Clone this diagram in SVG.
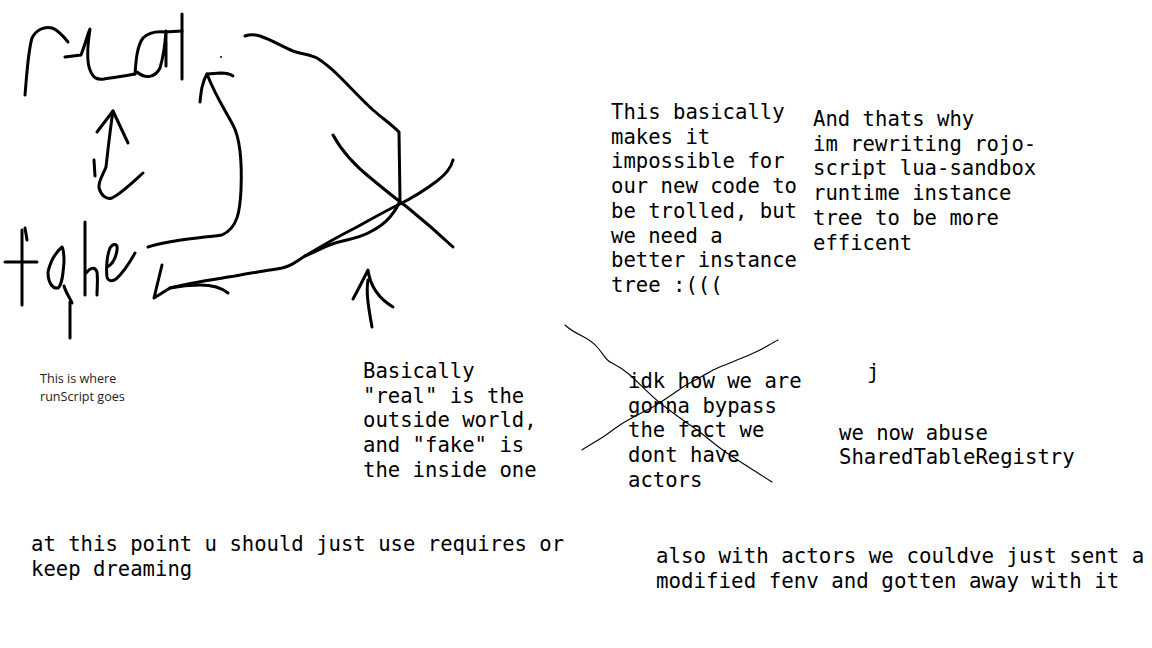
<svg xmlns="http://www.w3.org/2000/svg" width="1152" height="648" viewBox="0 0 1152 648">
<style>
.ink{fill:none;stroke:#000;stroke-width:3;stroke-linecap:round;stroke-linejoin:round}
.thin{fill:none;stroke:#000;stroke-width:1.1;stroke-linecap:round;stroke-linejoin:round}
.mono{font-family:"DejaVu Sans Mono","Liberation Mono",monospace;font-size:20.6px;fill:#000}
.small{font-family:"Open Sans","Liberation Sans",sans-serif;font-size:12.6px;fill:#222}
</style>
<rect width="1152" height="648" fill="#fff"/>
<g id="sketch-real">
<path class="ink" d="M25,95 C27,72 28,52 32,38 C36,30 44,26 52,28 C58,30 64,37 68,42"/>
<path class="ink" d="M65,57 L81,55 C85,45 88,33 90,29 C88,42 86,60 90,70 C93,78 97,80 104,79 C115,77 125,76 135,74"/>
<path class="ink" d="M135,74 C136,60 137,46 143,38 C148,33 155,31 165,32 L182,31"/>
<path class="ink" d="M137,72 C145,79 155,78 160,68 C163,58 165,45 166,31 L166,66"/>
<path class="ink" d="M182,14 L182,79"/>
<circle cx="221" cy="57" r="1" fill="#000"/>
</g>
<g id="sketch-fake">
<path class="ink" d="M22,230 L22,305"/>
<path class="ink" d="M25,228 L27,240"/>
<path class="ink" d="M5,262 L37,262"/>
<path class="ink" d="M62,247 C55,253 50,263 48,272 C48,282 52,289 58,288 C62,285 63,275 64,262 C64,255 64,250 62,247"/>
<path class="ink" d="M64,286 C66,293 70,298 72,303"/>
<path class="ink" d="M70,302 L70,338"/>
<path class="ink" d="M85,222 L85,295"/>
<path class="ink" d="M86,273 C90,268 95,266 97,272 C98,280 97,288 97,295"/>
<path class="ink" d="M107,267 C112,265 116,258 117,250 C118,243 113,243 110,248 C107,255 106,268 107,277 C108,281 112,282 116,279 C124,272 130,262 135,253"/>
</g>
<g id="connectors">
<path class="ink" d="M113,111 C110,130 108,150 106,167 C103,175 98,181 99,188 C101,195 106,200 112,198 C122,193 133,182 143,173"/>
<path class="ink" d="M97,132 L113,111 L128,143"/>
<path class="ink" d="M94,160 L95,176"/>
<path class="ink" d="M148,247 C170,240 200,238 222,235 C238,228 240,210 241,190 C242,165 241,140 233,125 C225,110 215,95 207,74"/>
<path class="ink" d="M200,102 C201,92 202,82 207,74 L221,73 C226,73 230,74 233,76"/>
<path class="ink" d="M245,36 C250,34 254,34 260,36 C272,40 283,47 293,51 C302,54 311,55 317,58 C325,63 333,70 340,77 C351,88 362,100 373,110 C382,118 391,124 399,132 L400,200 C398,207 395,211 390,217 C385,223 378,228 370,232 C360,238 345,240 335,243 C325,246 315,252 305,256 C295,262 292,266 282,268 C265,271 250,273 235,276 C210,280 188,283 170,288"/>
<path class="ink" d="M162,265 L154,298 L170,288 C180,286 190,285 200,285 C215,285 222,288 228,293"/>
<path class="ink" d="M333,135 C340,148 350,162 373,180 C385,190 395,198 407,207 C423,220 438,233 453,247"/>
<path class="ink" d="M453,160 C451,168 445,175 437,181 C425,190 412,198 400,204 C385,211 370,220 355,228 C335,238 320,247 305,256"/>
<path class="ink" d="M353,299 C358,290 363,280 368,270 C370,285 378,298 393,307"/>
<path class="ink" d="M368,280 C366,292 368,305 372,327"/>
<path class="thin" d="M565,325 C570,330 576,333 582,336 C590,340 594,343 598,348 C604,355 606,361 612,363 C620,367 624,370 630,375 C640,384 650,395 660,403 C672,412 682,420 693,427 C706,436 718,448 733,457 C748,467 760,474 772,482"/>
<path class="thin" d="M778,340 C772,343 766,347 760,350 C752,354 745,357 737,360 C728,364 721,366 713,370 C703,376 693,381 683,387 C673,394 663,401 653,407 C643,412 633,417 623,423 C615,428 609,433 603,437 C595,442 588,446 582,450"/>
</g>
<g id="note-runscript">
<text class="small" x="40" y="383">This is where</text>
<text class="small" x="40" y="401">runScript goes</text>
</g>
<g id="note-basically">
<text class="mono" x="363" y="378">Basically</text>
<text class="mono" x="363" y="402.7">"real" is the</text>
<text class="mono" x="363" y="427.4">outside world,</text>
<text class="mono" x="363" y="452.1">and "fake" is</text>
<text class="mono" x="363" y="476.8">the inside one</text>
</g>
<g id="note-impossible">
<text class="mono" x="611" y="119">This basically</text>
<text class="mono" x="611" y="143.7">makes it</text>
<text class="mono" x="611" y="168.4">impossible for</text>
<text class="mono" x="611" y="193.1">our new code to</text>
<text class="mono" x="611" y="217.8">be trolled, but</text>
<text class="mono" x="611" y="242.5">we need a</text>
<text class="mono" x="611" y="267.2">better instance</text>
<text class="mono" x="611" y="291.9">tree :(((</text>
</g>
<g id="note-rewriting">
<text class="mono" x="813" y="126">And thats why</text>
<text class="mono" x="813" y="150.7">im rewriting rojo-</text>
<text class="mono" x="813" y="175.4">script lua-sandbox</text>
<text class="mono" x="813" y="200.1">runtime instance</text>
<text class="mono" x="813" y="224.8">tree to be more</text>
<text class="mono" x="813" y="249.5">efficent</text>
</g>
<g id="note-idk">
<text class="mono" x="628" y="388">idk how we are</text>
<text class="mono" x="628" y="412.7">gonna bypass</text>
<text class="mono" x="628" y="437.4">the fact we</text>
<text class="mono" x="628" y="462.1">dont have</text>
<text class="mono" x="628" y="486.8">actors</text>
</g>
<g id="note-j">
<text class="mono" x="867" y="379">j</text>
</g>
<g id="note-abuse">
<text class="mono" x="839" y="439.5">we now abuse</text>
<text class="mono" x="839" y="464.2">SharedTableRegistry</text>
</g>
<g id="note-requires">
<text class="mono" x="31" y="551" style="font-size:20.6px">at this point u should just use requires or</text>
<text class="mono" x="31" y="575.5" style="font-size:20.6px">keep dreaming</text>
</g>
<g id="note-actors">
<text class="mono" x="656" y="563" style="font-size:20.8px">also with actors we couldve just sent a</text>
<text class="mono" x="656" y="587.5" style="font-size:20.8px">modified fenv and gotten away with it</text>
</g>
</svg>
